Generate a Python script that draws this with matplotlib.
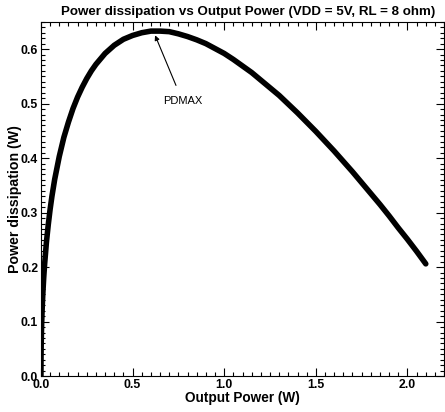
import matplotlib
matplotlib.use("Agg")
import matplotlib.pyplot as plt
from matplotlib.ticker import MultipleLocator

plt.rcParams['font.family'] = ['Liberation Sans', 'DejaVu Sans']

# 读图得到的数据点
output_power = [0.0, 0.0005, 0.001, 0.002, 0.003, 0.004, 0.006, 0.008, 0.01, 0.015,
                0.02, 0.03, 0.04, 0.05, 0.06, 0.075, 0.1, 0.125, 0.15, 0.175,
                0.2, 0.225, 0.25, 0.275, 0.3, 0.35, 0.4, 0.45, 0.5, 0.55,
                0.6, 0.65, 0.7, 0.75, 0.8, 0.85, 0.9, 0.95, 1.0, 1.05,
                1.1, 1.15, 1.2, 1.25, 1.3, 1.35, 1.4, 1.45, 1.5, 1.55,
                1.6, 1.65, 1.7, 1.75, 1.8, 1.85, 1.9, 1.95, 2.0, 2.05, 2.1]
power_dissipation = [0.0, 0.035, 0.049, 0.069, 0.084, 0.097, 0.117, 0.134, 0.149, 0.180,
                     0.205, 0.246, 0.278, 0.306, 0.330, 0.361, 0.403, 0.438, 0.466, 0.491,
                     0.512, 0.530, 0.546, 0.560, 0.572, 0.592, 0.607, 0.618, 0.625, 0.630,
                     0.633, 0.633, 0.632, 0.628, 0.623, 0.617, 0.610, 0.601, 0.592, 0.581,
                     0.569, 0.557, 0.543, 0.529, 0.515, 0.499, 0.483, 0.466, 0.449, 0.431,
                     0.413, 0.394, 0.375, 0.355, 0.335, 0.315, 0.294, 0.272, 0.251, 0.229, 0.206]
peak_x, peak_y = 0.617, 0.630

fig = plt.figure(figsize=(4.45, 4.12), dpi=100)
ax = fig.add_axes([0.092, 0.087, 0.906, 0.860])

ax.plot(output_power, power_dissipation, color="black", lw=4.0,
        solid_capstyle="round", solid_joinstyle="round")

ax.annotate("PDMAX", xy=(peak_x, peak_y), xytext=(0.665, 0.505),
            fontsize=8, ha="left", va="center",
            arrowprops=dict(arrowstyle="-|>", color="black", lw=0.8,
                            mutation_scale=7, shrinkA=6, shrinkB=2))

ax.set_xlim(0, 2.2)
ax.set_ylim(0, 0.65)
ax.xaxis.set_major_locator(MultipleLocator(0.5))
ax.xaxis.set_minor_locator(MultipleLocator(0.05))
ax.yaxis.set_major_locator(MultipleLocator(0.1))
ax.yaxis.set_minor_locator(MultipleLocator(0.01))
ax.xaxis.set_major_formatter(plt.FormatStrFormatter("%.1f"))
ax.yaxis.set_major_formatter(plt.FormatStrFormatter("%.1f"))
ax.tick_params(which="both", direction="in", top=True, right=True, width=0.8)
ax.tick_params(which="major", length=6, labelsize=8.8, pad=2)
ax.tick_params(which="minor", length=3)
for lab in ax.get_xticklabels() + ax.get_yticklabels():
    lab.set_fontweight("bold")
for s in ax.spines.values():
    s.set_linewidth(0.8)

ax.set_xlabel("Output Power (W)", fontsize=9.8, fontweight="bold", labelpad=0)
ax.set_ylabel("Power dissipation (W)", fontsize=10.2, fontweight="bold")
ax.yaxis.set_label_coords(-0.046, 0.5)
ax.set_title("Power dissipation vs Output Power (VDD = 5V, RL = 8 ohm)",
             fontsize=9.6, fontweight="bold", pad=5, x=0.515)

fig.savefig("out.png", dpi=100)
